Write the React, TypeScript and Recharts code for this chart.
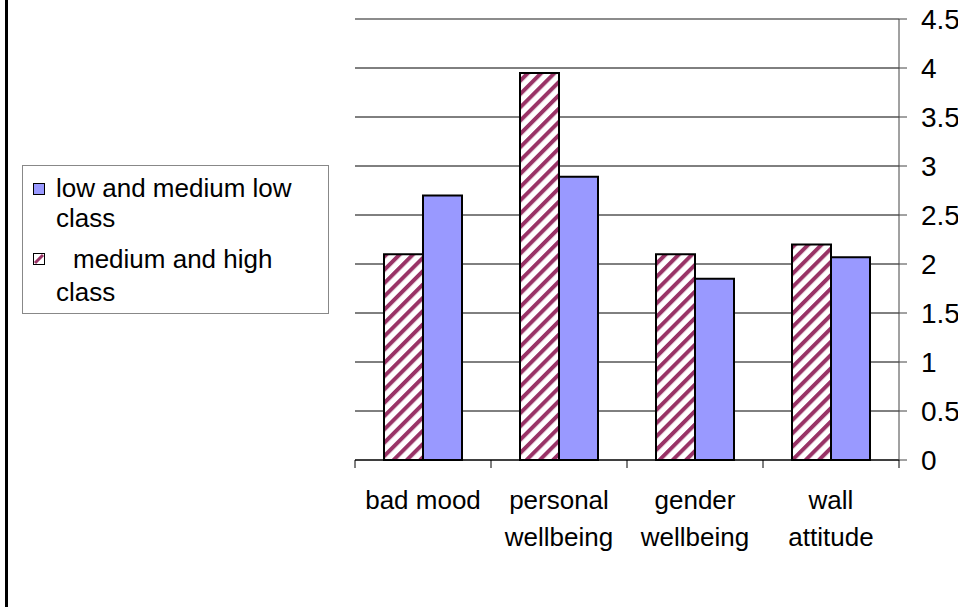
import React from 'react';
import { BarChart, Bar, XAxis, YAxis, CartesianGrid, ReferenceLine, Legend } from 'recharts';

const categories = ['bad mood', 'personal wellbeing', 'gender wellbeing', 'wall attitude'];
const tickLines = [['bad mood'], ['personal', 'wellbeing'], ['gender', 'wellbeing'], ['wall', 'attitude']];
const seriesNames = ['medium and high class', 'low and medium low class'];
const highValues = [2.1, 3.95, 2.1, 2.2];
const lowValues = [2.7, 2.89, 1.85, 2.07];
const yTicks = [0, 0.5, 1, 1.5, 2, 2.5, 3, 3.5, 4, 4.5];

const data = categories.map((name, i) => ({
  name,
  high: highValues[i],
  low: lowValues[i],
}));

const FONT = '"Liberation Sans", Arial, sans-serif';
const HATCH = '#993366';
const BLUE = '#9999FF';

const CategoryTick = (props: any) => {
  const { x, y, index, width, visibleTicksCount } = props;
  const band = width / visibleTicksCount;
  const lines = tickLines[index] || [];
  return (
    <g>
      <line x1={x - band / 2} x2={x - band / 2} y1={y} y2={y + 8} stroke="#000" />
      {index === visibleTicksCount - 1 && (
        <line x1={x + band / 2} x2={x + band / 2} y1={y} y2={y + 8} stroke="#000" />
      )}
      <text x={x} y={y} textAnchor="middle" fontSize={26} fontFamily={FONT} fill="#000">
        {lines.map((l, i) => (
          <tspan key={i} x={x} dy={i === 0 ? 49 : 37}>
            {l}
          </tspan>
        ))}
      </text>
    </g>
  );
};

const Marker = ({ hatched }: { hatched: boolean }) => (
  <svg width={12} height={12} style={{ position: 'absolute', left: -23, top: 10 }}>
    <rect x={0.5} y={0.5} width={11} height={11} fill={hatched ? '#fff' : BLUE} stroke="#000" />
    {hatched && <line x1={2} y1={10} x2={10} y2={2} stroke={HATCH} strokeWidth={3} />}
  </svg>
);

const LegendBox = (props: any) => {
  // blue series is listed first in the legend
  const items = [...(props.payload || [])].sort((a: any, b: any) =>
    a.dataKey === 'low' ? -1 : b.dataKey === 'low' ? 1 : 0
  );
  return (
    <div
      style={{
        width: 307,
        height: 149,
        boxSizing: 'border-box',
        border: '1px solid #888',
        background: '#fff',
        fontFamily: FONT,
        fontSize: 26,
        lineHeight: '30px',
        color: '#000',
        paddingTop: 7,
        paddingLeft: 33,
        paddingRight: 8,
      }}
    >
      {items.map((item: any, i: number) => {
        const hatched = item.dataKey === 'high';
        return (
          <div
            key={i}
            style={{
              position: 'relative',
              marginTop: i === 0 ? 0 : 10,
              textIndent: hatched ? 17 : 0,
              lineHeight: hatched ? '33px' : '30px',
            }}
          >
            <Marker hatched={hatched} />
            {item.value}
          </div>
        );
      })}
    </div>
  );
};

export default function App() {
  return (
    <div style={{ position: 'absolute', left: 0, top: 0, width: 958, height: 607, background: '#fff' }}>
      <div style={{ position: 'absolute', left: 5, top: 0, width: 3, height: 607, background: '#000' }} />
      <BarChart
        width={958}
        height={607}
        data={data}
        margin={{ top: 19, right: 0, bottom: 0, left: 355 }}
        barGap={0}
        barSize={39}
      >
        <defs>
          <pattern id="hatch" patternUnits="userSpaceOnUse" width={9.4} height={9.4} patternTransform="rotate(45)">
            <rect x={0} y={0} width={9.4} height={9.4} fill="#fff" />
            <rect x={0} y={0} width={4} height={9.4} fill={HATCH} />
          </pattern>
        </defs>
        <CartesianGrid vertical={false} stroke="#000" />
        <XAxis
          dataKey="name"
          height={147}
          tickSize={0}
          tickMargin={0}
          tickLine={false}
          axisLine={{ stroke: '#000' }}
          interval={0}
          tick={<CategoryTick />}
        />
        <YAxis
          yAxisId="left"
          orientation="left"
          width={0}
          domain={[0, 4.5]}
          ticks={yTicks}
          tick={false}
          tickLine={false}
          axisLine={{ stroke: '#999' }}
        />
        <YAxis
          orientation="right"
          width={59}
          domain={[0, 4.5]}
          ticks={yTicks}
          interval={0}
          tickSize={8}
          tickMargin={14}
          tickLine={{ stroke: '#444' }}
          axisLine={{ stroke: '#444' }}
          tick={{ fontSize: 28, fontFamily: FONT, fill: '#000', textAnchor: 'start' }}
        />
        <ReferenceLine y={4.5} stroke="#999" />
        <Bar dataKey="high" name={seriesNames[0]} fill="url(#hatch)" stroke="#000" strokeWidth={2} isAnimationActive={false} />
        <Bar dataKey="low" name={seriesNames[1]} fill={BLUE} stroke="#000" strokeWidth={2} isAnimationActive={false} />
        <Legend
          layout="vertical"
          align="center"
          verticalAlign="middle"
          wrapperStyle={{ left: 22, top: 165, width: 307, height: 149 }}
          content={<LegendBox />}
        />
      </BarChart>
    </div>
  );
}
